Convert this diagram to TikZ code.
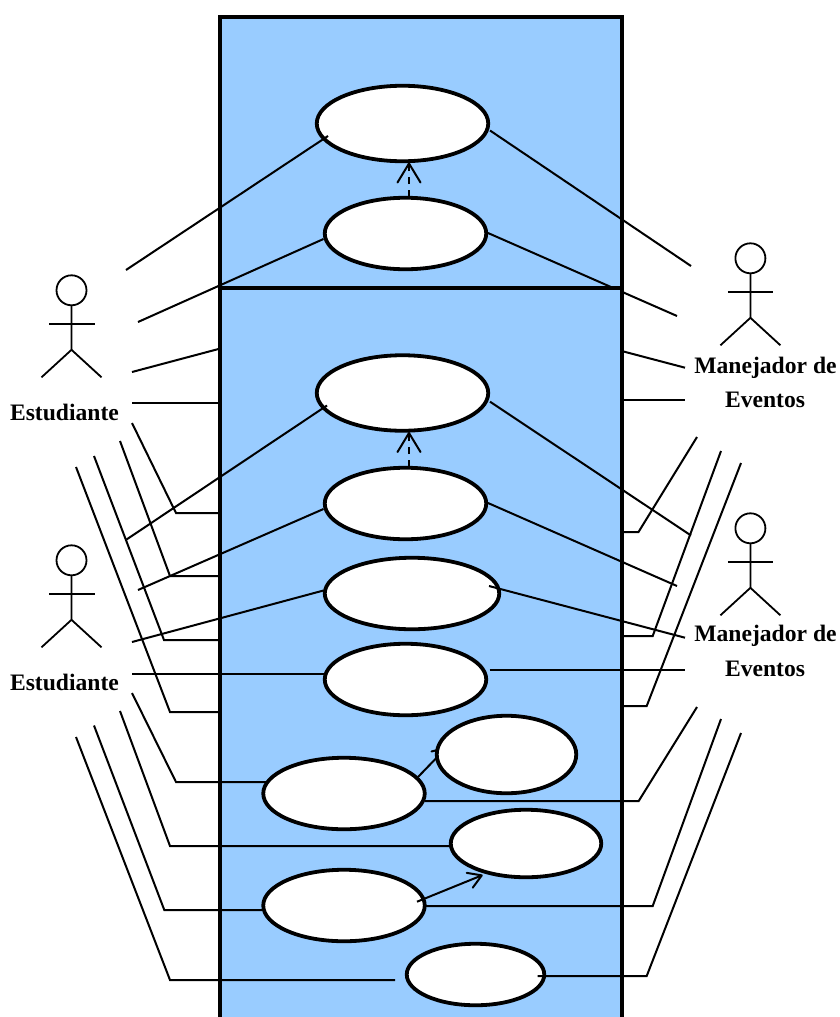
\documentclass[tikz,border=0pt]{standalone}
\usepackage{fontspec}
\setmainfont{Liberation Serif}
\usetikzlibrary{arrows.meta,shapes.geometric}
\definecolor{sysblue}{HTML}{99CCFF}
\tikzset{
  sysbox/.style={draw=black,fill=sysblue,line width=3.8pt,rectangle,inner sep=0pt,outer sep=0pt,anchor=north west},
  usecase/.style={draw=black,fill=white,line width=3.8pt,ellipse,inner sep=0pt,outer sep=0pt},
  link/.style={draw=black,line width=2pt,line join=miter},
  actorline/.style={draw=black,line width=1.8pt},
  actorlabel/.style={font=\bfseries\fontsize{23.6pt}{28pt}\selectfont,text=black,anchor=base,inner sep=0pt},
  dep/.style={link,dash pattern=on 7pt off 6pt,-{Straight Barb[length=19pt,width=23pt,round]}},
  ext/.style={link,-{Straight Barb[length=13pt,width=16pt,round]}}
}
\newcommand{\stickman}[3]{% name, x of body, y of head centre
  \node[actorline,circle,minimum size=30pt,inner sep=0pt,outer sep=0pt] (#1) at (#2,#3) {};
  \draw[actorline] (#1.south) -- ++(0,44.5) coordinate (#1h) -- ++(-30,27.5);
  \draw[actorline] (#1h) -- ++(30,27.5);
  \draw[actorline] ([shift={(-22.5,33.3)}]#1.center) -- ++(45.5,0);
}
\begin{document}
\begin{tikzpicture}[x=1pt,y=-1pt]
\useasboundingbox (0,0) rectangle (839,1017);
\fill[white] (0,0) rectangle (839,1017);
% upper system box
\node[sysbox,minimum width=402pt,minimum height=271pt] (boxa) at (220.3,17) {};
% ellipses of the upper box (drawn first so that one line can pass under the lower box)
\node[usecase,minimum width=171.5pt,minimum height=75.5pt] (u1) at (402.5,123.5) {};
\node[usecase,minimum width=161.5pt,minimum height=71.5pt] (u2) at (405.5,233.5) {};
\coordinate (r2) at (677,316);
\draw[link] ([shift={(82.5,-.5)}]u2.center) -- (r2);
% lower system box, running off the page
\node[sysbox,minimum width=402pt,minimum height=760pt] (boxb) at (220.3,288) {};
% ellipses of the lower box
\node[usecase,minimum width=171.5pt,minimum height=75.5pt] (u3) at (402.5,393) {};
\node[usecase,minimum width=161.5pt,minimum height=71.5pt] (u4) at (405.5,503.5) {};
\node[usecase,minimum width=174.5pt,minimum height=71.5pt] (u5) at (412,593.5) {};
\node[usecase,minimum width=161.5pt,minimum height=71.5pt] (u6) at (405.5,679.5) {};
\node[usecase,minimum width=161.5pt,minimum height=71.5pt] (u8) at (344,793.5) {};
\node[usecase,minimum width=161.5pt,minimum height=71.5pt] (u10) at (344,905.5) {};
\coordinate (t7) at (447,747);
\draw[ext] ([shift={(74,-16.5)}]u8.center) -- (t7);
\node[usecase,minimum width=139.5pt,minimum height=77.5pt] (u7) at (506.5,754.5) {};
\node[usecase,minimum width=150.5pt,minimum height=67.5pt] (u9) at (526,843.5) {};
\node[usecase,minimum width=137.5pt,minimum height=61.5pt] (u11) at (475.5,974.5) {};
% actors
\stickman{ae}{71.5}{290.3}
\stickman{af}{71.5}{560.3}
\stickman{am}{750.4}{258.3}
\stickman{an}{750.4}{528.3}
\node[actorlabel] (le) at (64.5,420) {Estudiante};
\node[actorlabel] (lf) at (64.5,690) {Estudiante};
\node[actorlabel] (lm1) at (765.5,373.3) {Manejador de};
\node[actorlabel] (lm2) at (765,407.7) {Eventos};
\node[actorlabel] (ln1) at (765.5,641.7) {Manejador de};
\node[actorlabel] (ln2) at (765,676) {Eventos};
% free ends on the left
\coordinate (a1) at (126,270);
\coordinate (a2) at (138,322);
\coordinate (a3) at (132,372);
\coordinate (a4) at (132,403);
\coordinate (a5) at (132,423);
\coordinate (a6) at (120,441);
\coordinate (a7) at (94,456);
\coordinate (a8) at (76,467);
\coordinate (b1) at (126.5,539.5);
\coordinate (b2) at (138,590);
\coordinate (b3) at (132,642);
\coordinate (b4) at (132,674);
\coordinate (b5) at (132,693);
\coordinate (b6) at (120,711);
\coordinate (b7) at (94,725.5);
\coordinate (b8) at (76,737);
% free ends on the right
\coordinate (r1) at (691,266);
\coordinate (r3) at (685,367.7);
\coordinate (r4) at (685,400);
\coordinate (r5) at (697,437);
\coordinate (r6) at (721,451);
\coordinate (r7) at (741,463);
\coordinate (s1) at (691,535.5);
\coordinate (s2) at (677,586);
\coordinate (s3) at (685,637.7);
\coordinate (s4) at (685,670);
\coordinate (s5) at (697,707);
\coordinate (s6) at (721,719);
\coordinate (s7) at (741,733);
% connectors to the upper box
\draw[link] (a1) -- ([shift={(-74.5,12.5)}]u1.center);
\draw[link] (a2) -- ([shift={(-82,5.5)}]u2.center);
\draw[link] ([shift={(87.5,7)}]u1.center) -- (r1);
\draw[dep] ([shift={(3.5,-36.5)}]u2.center) -- ([shift={(6.5,39)}]u1.center);
% stubs that end on the lower box
\draw[link] (a3) -- (218.5,349);
\draw[link] (a4) -- (218.5,403);
\draw[link] (a5) -- (176,513) -- (218.5,513);
\draw[link] (a6) -- (170,576) -- (218.5,576);
\draw[link] (a7) -- (164,640) -- (218.5,640);
\draw[link] (a8) -- (170,712) -- (218.5,712);
\draw[link] (623.5,351.5) -- (r3);
\draw[link] (623.5,400) -- (r4);
\draw[link] (623.5,532) -- (638.5,532) -- (r5);
\draw[link] (623.5,636) -- (652.7,636) -- (r6);
\draw[link] (623.5,706) -- (646.7,706) -- (r7);
% connectors to the lower box
\draw[link] (b1) -- ([shift={(-75.5,12.5)}]u3.center);
\draw[link] (b2) -- ([shift={(-82,5.5)}]u4.center);
\draw[link] (b3) -- ([shift={(-88.5,-3)}]u5.center);
\draw[link] (b4) -- ([shift={(-81.5,-5.5)}]u6.center);
\draw[link] (b5) -- (176,782) -- ([shift={(-77,-11.5)}]u8.center);
\draw[link] (b6) -- (170,846) -- ([shift={(-76,2.5)}]u9.center);
\draw[link] (b7) -- (164.3,910) -- ([shift={(-82,4.5)}]u10.center);
\draw[link] (b8) -- (170,980) -- (395,980);
\draw[link] ([shift={(87.5,8.7)}]u3.center) -- (s1);
\draw[link] ([shift={(82.5,-.5)}]u4.center) -- (s2);
\draw[link] ([shift={(77,-7.5)}]u5.center) -- (s3);
\draw[link] ([shift={(84,-9.5)}]u6.center) -- (s4);
\draw[link] ([shift={(81,7.5)}]u8.center) -- (638.7,801) -- (s5);
\draw[link] ([shift={(81,.5)}]u10.center) -- (652.7,906) -- (s6);
\draw[link] ([shift={(62.2,1.5)}]u11.center) -- (646.7,976) -- (s7);
\draw[dep] ([shift={(3.5,-36.5)}]u4.center) -- ([shift={(6.5,39)}]u3.center);
\draw[ext] ([shift={(73,-3.8)}]u10.center) -- ([shift={(-43.3,31.5)}]u9.center);
\end{tikzpicture}
\end{document}
